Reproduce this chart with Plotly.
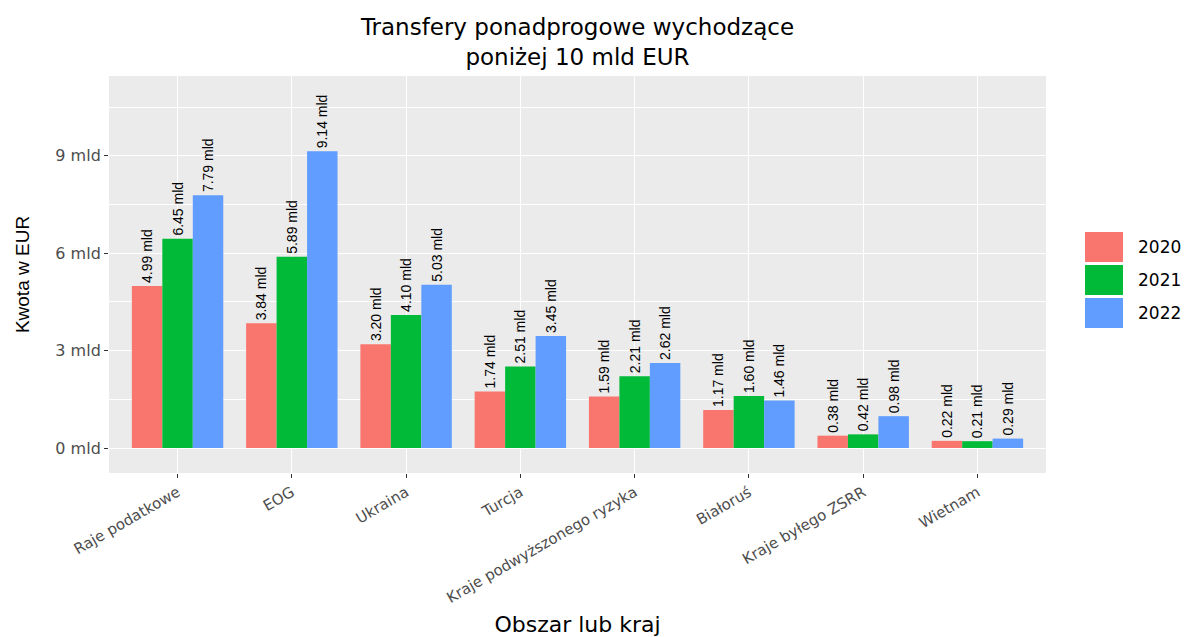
import plotly.graph_objects as go

categories = ["Raje podatkowe", "EOG", "Ukraina", "Turcja", "Kraje podwyższonego ryzyka",
              "Białoruś", "Kraje byłego ZSRR", "Wietnam"]
years = ["2020", "2021", "2022"]
v2020 = [4.99, 3.84, 3.20, 1.74, 1.59, 1.17, 0.38, 0.22]
v2021 = [6.45, 5.89, 4.10, 2.51, 2.21, 1.60, 0.42, 0.21]
v2022 = [7.79, 9.14, 5.03, 3.45, 2.62, 1.46, 0.98, 0.29]
series = [v2020, v2021, v2022]
colors = ["#F8766D", "#00BA38", "#619CFF"]
ytick_vals = [0, 3, 6, 9]
ytick_text = ["0 mld", "3 mld", "6 mld", "9 mld"]

W, H = 1187, 637
L, T = 109, 76
R = W - 1046
B = H - 473
pw, ph = W - L - R, H - T - B

def px_x(sx):
    return (sx - L) / pw

def px_y(sy):
    return (H - B - sy) / ph

FONT = "DejaVu Sans"

fig = go.Figure()
for yr, vals, col in zip(years, series, colors):
    fig.add_trace(go.Bar(
        x=categories, y=vals, name=yr, marker_color=col, marker_line_width=0,
        text=[f"{v:.2f} mld" for v in vals], textposition="outside", textangle=-90,
        constraintext="none",
        textfont=dict(family="Liberation Sans", size=14, color="black"),
        cliponaxis=False, showlegend=False,
    ))

# custom legend (ggplot style keys)
key_top = [232, 265, 298]
for yr, col, kt in zip(years, colors, key_top):
    x0, x1 = px_x(1085), px_x(1123)
    y1, y0 = px_y(kt), px_y(kt + 30)
    fig.add_shape(type="rect", xref="paper", yref="paper", x0=x0, x1=x1, y0=y0, y1=y1,
                  fillcolor=col, line=dict(width=0))
    fig.add_annotation(xref="paper", yref="paper", x=px_x(1136), y=(y0 + y1) / 2,
                       text=yr, showarrow=False, xanchor="left", yanchor="middle",
                       font=dict(family=FONT, size=17, color="black"))

fig.update_layout(
    width=W, height=H,
    margin=dict(l=L, r=R, t=T, b=B, autoexpand=False),
    paper_bgcolor="white", plot_bgcolor="#EBEBEB",
    barmode="group", bargap=0.2, bargroupgap=0,
    title=dict(text="Transfery ponadprogowe wychodzące<br>poniżej 10 mld EUR",
               x=0.5, xref="paper", xanchor="center",
               y=1 - 35 / H, yref="container", yanchor="top",
               font=dict(family=FONT, size=23, color="black")),
    font=dict(family=FONT),
)
fig.update_xaxes(
    range=[-0.6, 7.6], showgrid=True, gridcolor="white", gridwidth=1.2,
    ticks="outside", ticklen=4, tickcolor="#333333", tickangle=-30,
    tickfont=dict(family=FONT, size=15, color="#4D4D4D"),
    title=dict(text="Obszar lub kraj", standoff=10,
               font=dict(family=FONT, size=22, color="black")),
    zeroline=False, showline=False,
)
fig.update_yaxes(
    range=[-0.77, 11.46], tickvals=ytick_vals, ticktext=ytick_text,
    showgrid=True, gridcolor="white", gridwidth=1.2,
    minor=dict(tickvals=[1.5, 4.5, 7.5, 10.5], showgrid=True, gridcolor="white", gridwidth=0.6, ticks=""),
    ticks="outside", ticklen=4, tickcolor="#333333",
    tickfont=dict(family=FONT, size=16, color="#4D4D4D"),
    title=dict(text="Kwota w EUR", standoff=20,
               font=dict(family="Liberation Sans", size=19, color="black")),
    zeroline=False, showline=False,
)

fig.write_html("out.html", config={"displayModeBar": False},
               post_script="document.body.style.margin='0';document.body.style.overflow='hidden';")
